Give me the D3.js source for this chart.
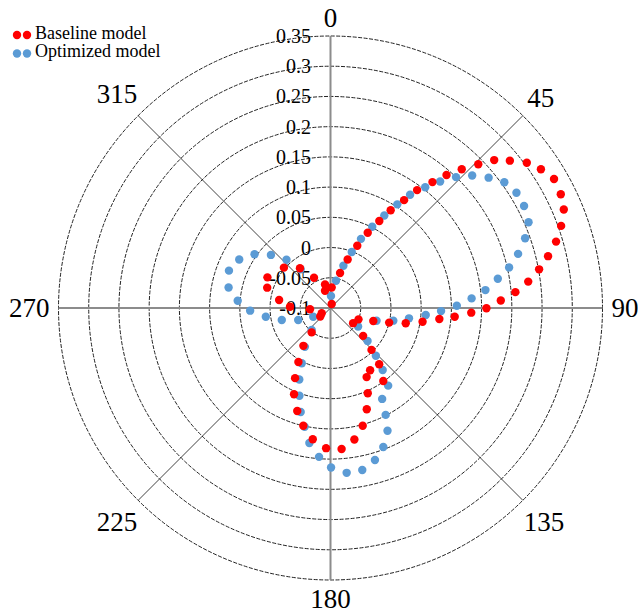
<!DOCTYPE html>
<html>
<head>
<meta charset="utf-8">
<script src="https://cdn.jsdelivr.net/npm/d3@7"></script>
<style>
html,body{margin:0;padding:0;background:#fff;}
svg{display:block;}
text{font-family:"Liberation Serif","Times New Roman",serif;}
</style>
</head>
<body>
<svg id="chart" width="638" height="616"></svg>
<script>
// ---- data (angle in degrees clockwise from top, radial value) ----
const radialTicks = [-0.1, -0.05, 0, 0.05, 0.1, 0.15, 0.2, 0.25, 0.3, 0.35];
const angleTicks = [0, 45, 90, 135, 180, 225, 270, 315];
const seriesNames = ["Baseline model", "Optimized model"];

const baselineAngle = [43.4,41.1,39.0,36.3,34.3,31.6,29.3,26.3,23.3,19.5,15.3,3.3,342.4,16.7,238.9,
  45.8,47.9,50.6,53.5,56.6,60.0,63.7,67.1,70.4,73.6,76.6,79.5,82.4,85.1,87.5,90.1,91.9,94.0,95.8,
  98.5,101.5,104.0,106.9,112.1,123.9,
  230.4,217.7,215.6,210.7,206.8,202.9,197.9,193.0,187.7,181.8,175.5,169.7,164.7,160.3,156.4,152.4,147.5,144.1,139.1,135.6,130.5,
  310.9,322.5,331.4,295.9,287.8,278.8,271.8,346.9,266.4];
const baselineValue = [0.216,0.192,0.168,0.142,0.116,0.090,0.065,0.039,0.012,-0.015,-0.040,-0.066,-0.070,-0.093,-0.083,
  0.241,0.265,0.284,0.304,0.317,0.327,0.325,0.319,0.305,0.289,0.270,0.251,0.230,0.207,0.182,0.158,0.133,0.106,0.081,
  0.054,0.027,0.000,-0.026,-0.050,-0.055,
  -0.078,-0.049,-0.023,0.004,0.030,0.055,0.079,0.100,0.119,0.132,0.134,0.121,0.102,0.078,0.054,0.029,0.022,0.049,0.023,-0.003,-0.029,
  0.002,-0.017,-0.043,0.016,0.010,-0.014,-0.033,-0.060,-0.066];

const optimizedAngle = [43.8,40.9,38.1,35.1,32.8,30.2,27.2,23.8,20.8,17.0,11.4,2.3,
  46.9,50.5,54.1,58.2,62.2,66.6,70.3,73.9,77.2,80.1,83.4,86.1,89.0,91.6,94.2,97.5,101.4,105.4,123.9,
  249.6,220.5,213.4,207.5,203.6,199.5,196.0,192.3,188.9,184.4,179.8,174.4,168.9,163.7,159.2,155.1,152.7,150.4,143.4,139.9,136.5,131.6,
  298.0,305.3,311.7,317.6,322.4,290.2,281.4,274.5,268.1,262.3,256.2,243.2];
const optimizedValue = [0.200,0.177,0.154,0.129,0.104,0.077,0.051,0.025,-0.001,-0.027,-0.054,-0.080,
  0.221,0.239,0.255,0.262,0.262,0.257,0.242,0.223,0.203,0.181,0.158,0.134,0.109,0.083,0.058,0.031,0.006,-0.021,-0.045,
  -0.043,-0.052,-0.023,0.003,0.029,0.054,0.079,0.101,0.126,0.147,0.164,0.174,0.173,0.162,0.146,0.124,0.099,0.073,0.060,0.034,0.009,-0.018,
  0.071,0.054,0.032,0.008,-0.019,0.079,0.072,0.054,0.033,0.008,-0.017,-0.068];

const seriesColors = ["#ff0000", "#5b9bd5"];

// ---- layout ----
const cx = 330.5, cy = 308, R = 272;
const svg = d3.select("#chart");
const r = d3.scaleLinear().domain([-0.1, 0.35]).range([0, R]);
const toRad = d => d * Math.PI / 180;
const px = (a, v) => cx + r(v) * Math.sin(toRad(a));
const py = (a, v) => cy - r(v) * Math.cos(toRad(a));

const g = svg.append("g");

// rings
g.selectAll("circle.ring").data(radialTicks.filter(t => t > -0.1))
  .join("circle").attr("class", "ring")
  .attr("cx", cx).attr("cy", cy).attr("r", d => r(d))
  .attr("fill", "none").attr("stroke", "#222").attr("stroke-width", 1)
  .attr("stroke-dasharray", "4,1.5");

// spokes
g.selectAll("line.spoke").data(angleTicks)
  .join("line").attr("class", "spoke")
  .attr("x1", cx).attr("y1", cy)
  .attr("x2", d => px(d, 0.35)).attr("y2", d => py(d, 0.35))
  .attr("stroke", d => d % 90 === 0 ? "#8c8c8c" : "#111")
  .attr("stroke-width", d => d % 90 === 0 ? 2 : 0.8);

// radial tick labels
g.selectAll("text.rt").data(radialTicks)
  .join("text").attr("class", "rt")
  .attr("x", 311).attr("y", d => cy - r(d))
  .attr("text-anchor", "end").attr("dominant-baseline", "central")
  .attr("font-size", 20).attr("fill", "#000")
  .text(d => String(+d.toFixed(2)));

// angle labels
const fs = 27;
g.selectAll("text.at").data(angleTicks)
  .join("text").attr("class", "at")
  .attr("font-size", fs).attr("fill", "#000")
  .attr("text-anchor", "middle").attr("dominant-baseline", "central")
  .text(d => d)
  .each(function(d) {
    const w = this.getComputedTextLength();
    const s = Math.abs(Math.sin(toRad(d))), c = Math.abs(Math.cos(toRad(d)));
    const dist = R + 9 + s * w / 2 + c * 9.5;
    d3.select(this)
      .attr("x", cx + dist * Math.sin(toRad(d)))
      .attr("y", cy - dist * Math.cos(toRad(d)));
  });

// points
const series = [
  {name: seriesNames[1], a: optimizedAngle, v: optimizedValue, color: seriesColors[1]},
  {name: seriesNames[0], a: baselineAngle, v: baselineValue, color: seriesColors[0]}
];
series.forEach(s => {
  g.append("g").selectAll("circle")
    .data(s.a.map((a, i) => ({a, v: s.v[i]})))
    .join("circle")
    .attr("cx", d => px(d.a, d.v)).attr("cy", d => py(d.a, d.v))
    .attr("r", 4.2).attr("fill", s.color);
});

// legend
const leg = svg.append("g");
seriesNames.forEach((n, i) => {
  const y = 35 + i * 18.5;
  [17, 27].forEach(x => leg.append("circle").attr("cx", x).attr("cy", y).attr("r", 4.2).attr("fill", seriesColors[i]));
  leg.append("text").attr("x", 35).attr("y", y).attr("dominant-baseline", "central")
    .attr("dy", "-0.12em")
    .attr("font-size", 18).attr("fill", "#000").text(n);
});
</script>
</body>
</html>
